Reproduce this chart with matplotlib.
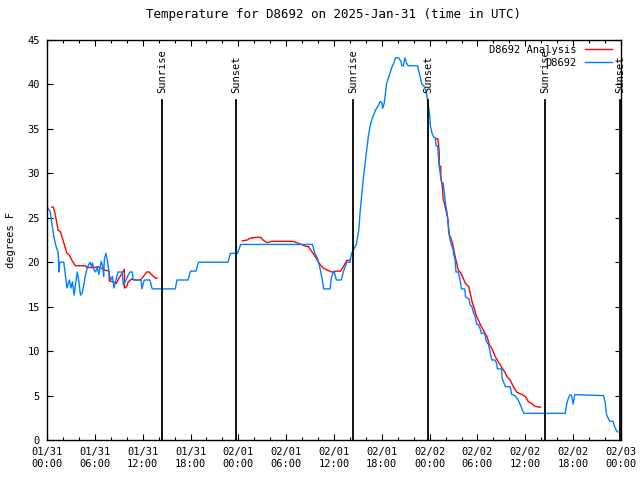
import numpy as np
import matplotlib
matplotlib.use('Agg')
import matplotlib.pyplot as plt
from matplotlib.ticker import MultipleLocator

plt.rcParams['font.family'] = ['DejaVu Sans Mono']
plt.rcParams['font.size'] = 7.5

# observations (hours since 2025-01-31 00:00 UTC, degrees F)
obs_hours = [0.1, 0.4, 0.7, 0.9, 1.1, 1.4, 1.5, 1.6, 2.1, 2.3, 2.5, 2.8, 3.0, 3.2,
             3.4, 3.6, 3.8, 4.0, 4.2, 4.4, 4.6, 4.9, 5.1, 5.4, 5.6, 5.7, 5.9, 6.1,
             6.3, 6.5, 6.8, 7.0, 7.1, 7.2, 7.4, 7.6, 7.8, 8.0, 8.2, 8.4, 8.6, 8.9,
             9.4, 9.6, 9.9, 10.1, 10.4, 10.7, 10.8, 11.8, 11.9, 12.2, 12.9, 13.2,
             16.1, 16.3, 17.7, 18.0, 18.7, 19.0, 22.7, 23.0, 23.9, 24.3, 33.3,
             33.6, 33.9, 34.2, 34.5, 34.7, 35.5, 35.7, 36.0, 36.3, 36.9, 37.2,
             37.6, 38.0, 38.2, 38.5, 38.8, 39.1, 39.3, 39.5, 39.7, 39.9, 40.1,
             40.3, 40.5, 40.7, 40.9, 41.2, 41.6, 41.8, 42.0, 42.1, 42.3, 42.4,
             42.6, 42.8, 43.0, 43.2, 43.5, 43.7, 44.1, 44.4, 44.5, 44.7, 44.9,
             45.1, 45.3, 46.5, 46.6, 46.8, 47.0, 47.2, 47.4, 47.6, 47.8, 48.0,
             48.1, 48.3, 48.5, 48.7, 48.8, 49.0, 49.2, 49.4, 49.5, 49.7, 49.8,
             50.0, 50.2, 50.3, 50.5, 50.7, 50.9, 51.0, 51.2, 51.3, 51.6, 51.8,
             52.0, 52.4, 52.5, 52.9, 53.1, 53.3, 53.5, 53.7, 53.9, 54.1, 54.3,
             54.5, 54.9, 55.1, 55.4, 55.6, 55.8, 56.2, 56.4, 56.5, 57.0, 57.1,
             57.5, 58.1, 58.3, 58.7, 59.1, 59.4, 59.8, 65.0, 65.2, 65.4, 65.6,
             65.8, 66.0, 66.2, 69.8, 70.0, 70.2, 70.6, 71.0, 71.2, 71.4, 71.6]
obs_temp = [26.1, 25.7, 23.8, 22.7, 21.9, 21.1, 18.9, 20.0, 20.0, 18.6, 17.1, 18.0,
            17.1, 17.8, 16.3, 17.7, 18.9, 17.8, 16.3, 16.5, 17.4, 18.9, 19.5, 20.0,
            19.5, 19.9, 19.1, 18.9, 19.5, 18.6, 20.1, 19.5, 18.4, 20.4, 21.0, 20.1,
            18.6, 18.0, 18.4, 17.1, 17.8, 18.9, 18.9, 17.4, 18.0, 18.4, 18.9, 18.9,
            18.0, 18.0, 17.0, 18.0, 18.0, 17.0, 17.0, 18.0, 18.0, 19.0, 19.0, 20.0,
            20.0, 21.0, 21.0, 22.0, 22.0, 21.0, 20.5, 19.5, 18.2, 17.0, 17.0, 18.4,
            19.0, 18.0, 18.0, 19.0, 20.0, 20.0, 21.0, 21.5, 22.0, 23.6, 25.9, 27.8,
            29.6, 31.1, 32.6, 34.1, 35.2, 35.9, 36.4, 37.1, 37.7, 38.1, 37.9, 37.3,
            37.9, 38.6, 40.1, 40.7, 41.2, 41.8, 42.4, 43.0, 43.0, 42.6, 42.1, 42.1,
            43.0, 42.4, 42.1, 42.1, 41.6, 40.9, 40.1, 39.9, 39.6, 39.0, 37.9, 36.5,
            35.3, 34.5, 34.1, 34.0, 33.1, 33.1, 30.7, 29.6, 29.0, 28.9, 28.1, 26.5,
            25.5, 24.4, 22.8, 22.0, 21.6, 21.0, 20.2, 18.9, 18.9, 18.0, 17.0, 17.0,
            16.1, 15.9, 15.2, 15.0, 14.3, 13.9, 13.0, 13.0, 12.6, 12.0, 12.0, 11.1,
            10.7, 9.8, 9.0, 9.0, 8.6, 8.0, 8.0, 6.9, 6.0, 6.0, 5.1, 5.0, 4.5, 3.9,
            3.0, 3.0, 4.1, 4.7, 5.1, 5.0, 4.05, 5.1, 5.0, 4.3, 2.8, 2.1, 2.1, 1.5,
            1.1, 0.9]

# analysis (gaps where no analysis was drawn)
ana_hours = [0.6, 0.8, 1.0, 1.2, 1.4, 1.7, 2.0, 2.3, 2.5, 2.8, 3.1, 3.4, 3.6, 4.8,
             5.0, 5.4, 5.8, 6.4, 6.9, 7.3, 7.8, 7.8, 8.3, 8.7, 8.9, 9.4, 9.7, 9.7,
             10.0, 10.2, 10.6, 11.3, 11.7, 12.1, 12.5, 12.8, 13.3, 13.6, 13.8,
             np.nan,
             24.5, 25.1, 25.5, 26.2, 26.8, 27.1, 27.6, 28.2, 28.8, 30.9, 31.3,
             31.9, 32.4, 32.8, 33.0, 33.3, 33.8, 34.0, 34.3, 34.7, 35.2, 35.7,
             36.3, 36.8, 36.9, 37.3, 37.6, 38.0,
             np.nan,
             48.8, 49.0, 49.1, 49.2, 49.2, 49.4, 49.4, 49.6, 49.7, 49.8, 50.3,
             50.4, 50.7, 50.9, 51.2, 51.6, 51.9, 52.2, 52.5, 52.9, 53.1, 53.3,
             53.6, 53.8, 54.1, 54.4, 54.7, 55.2, 55.5, 55.8, 56.2, 56.6, 57.0,
             57.5, 57.7, 58.1, 58.5, 58.9, 59.6, 60.0, 60.4, 60.8, 61.2, 61.7, 61.9]
ana_temp = [26.2, 26.2, 25.5, 24.6, 23.6, 23.4, 22.5, 21.6, 21.0, 20.8, 20.25, 19.8,
            19.6, 19.6, 19.4, 19.4, 19.4, 19.5, 19.3, 19.1, 19.0, 17.9, 17.8, 17.6,
            18.0, 18.75, 19.2, 17.1, 17.25, 17.8, 18.1, 18.0, 18.0, 18.4, 18.9,
            18.9, 18.45, 18.2, 18.2,
            np.nan,
            22.4, 22.5, 22.7, 22.8, 22.8, 22.5, 22.2, 22.35, 22.35, 22.35, 22.2,
            22.0, 21.8, 21.75, 21.45, 21.1, 20.4, 20.1, 19.7, 19.3, 19.1, 18.9,
            19.0, 19.0, 19.1, 19.7, 20.2, 20.25,
            np.nan,
            33.9, 33.9, 33.4, 32.3, 30.9, 30.75, 29.6, 28.4, 27.0, 26.8, 24.8,
            23.25, 22.6, 22.0, 20.6, 19.1, 18.8, 18.2, 17.6, 17.25, 16.5, 15.6,
            14.8, 14.1, 13.5, 12.9, 12.4, 11.6, 10.7, 10.3, 9.4, 8.8, 8.25, 7.5,
            7.1, 6.75, 6.0, 5.4, 5.1, 4.9, 4.3, 4.1, 3.8, 3.7, 3.7]

sun_hours = [14.45, 23.7, 38.4, 47.8, 62.5, 71.9]
sun_labels = ['Sunrise', 'Sunset', 'Sunrise', 'Sunset', 'Sunrise', 'Sunset']

tick_hours = list(range(0, 73, 6))
tick_labels = ['01/31\n00:00', '01/31\n06:00', '01/31\n12:00', '01/31\n18:00',
               '02/01\n00:00', '02/01\n06:00', '02/01\n12:00', '02/01\n18:00',
               '02/02\n00:00', '02/02\n06:00', '02/02\n12:00', '02/02\n18:00',
               '02/03\n00:00']

fig = plt.figure(figsize=(6.4, 4.8), dpi=100)
ax = fig.add_axes([47 / 640, 1 - 440 / 480, 574 / 640, 400 / 480])

ax.plot(ana_hours, ana_temp, color='#ff0000', lw=1.0, label='D8692 Analysis')
ax.plot(obs_hours, obs_temp, color='#0080ff', lw=1.0, label='D8692')

for h, lab in zip(sun_hours, sun_labels):
    ax.plot([h, h], [0, 38.3], color='black', lw=1.3)
    ax.text(h, 39.0, lab, rotation=90, ha='center', va='bottom')

ax.set_xlim(0, 72)
ax.set_ylim(0, 45)
ax.set_xticks(tick_hours)
ax.set_xticklabels(tick_labels)
ax.xaxis.set_minor_locator(MultipleLocator(2))
ax.set_yticks(range(0, 46, 5))
ax.tick_params(which='both', direction='in', top=True, right=True, pad=5)
ax.tick_params(which='major', length=4, width=0.8)
ax.tick_params(which='minor', length=2.5, width=0.8)
for s in ax.spines.values():
    s.set_linewidth(1.0)

ax.set_ylabel('degrees F', labelpad=8)
ax.set_title('Temperature for D8692 on 2025-Jan-31 (time in UTC)', pad=16)

ax.legend(loc='upper right', bbox_to_anchor=(0.991, 0.998), frameon=False,
          markerfirst=False, handlelength=2.6, borderaxespad=0.1,
          labelspacing=0.3, handletextpad=0.8, borderpad=0.3)

fig.savefig('out.png', dpi=100)
